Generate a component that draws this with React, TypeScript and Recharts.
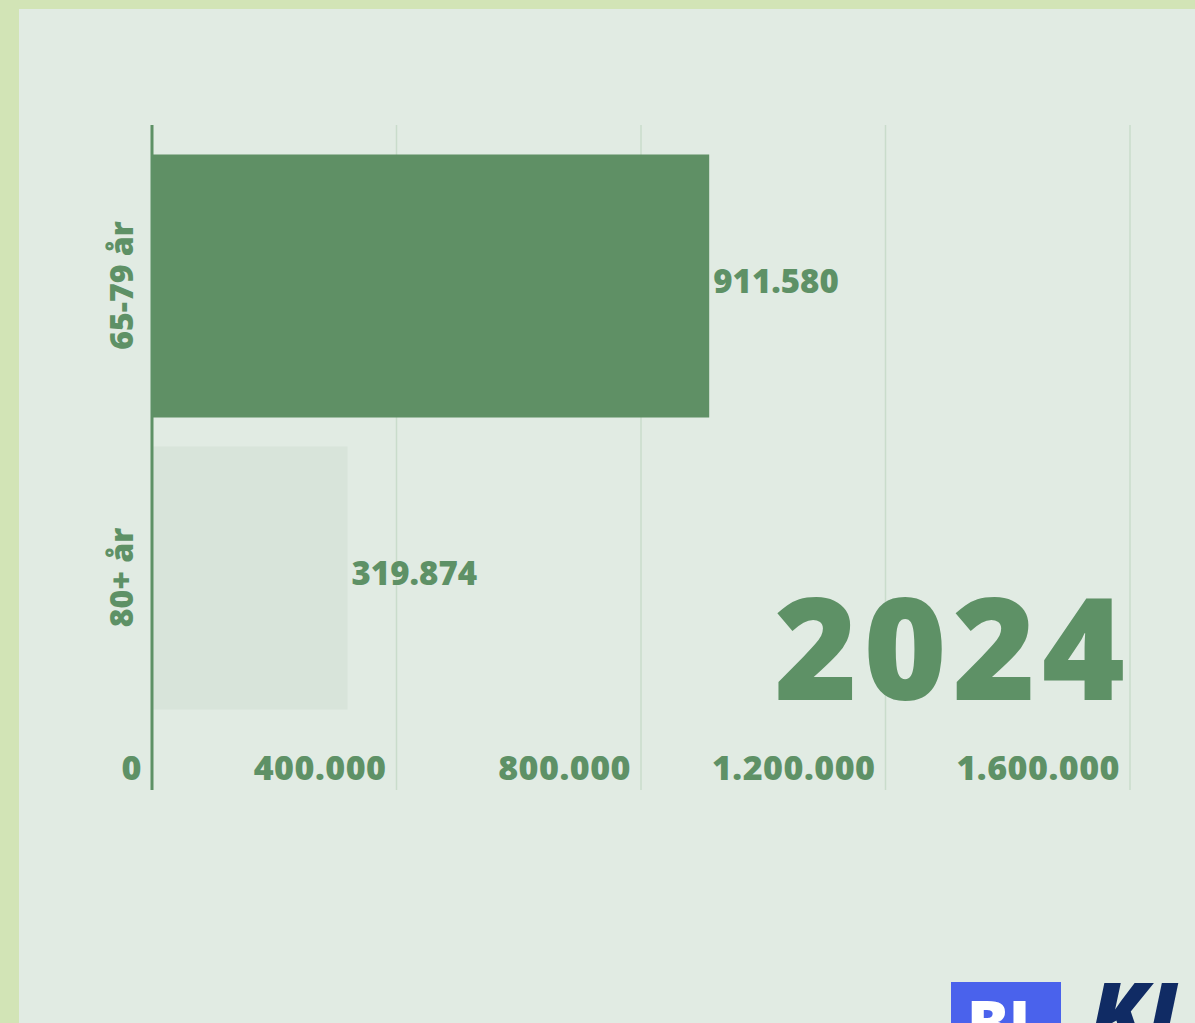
// App.tsx
// Horizontal bar chart: 65-79 år vs 80+ år, 2024.
import { BarChart, Bar, XAxis, YAxis, CartesianGrid, Cell, LabelList } from 'recharts'

const CATEGORIES = ['65-79 år', '80+ år']
const VALUES = [911580, 319874]
const X_TICKS = [0, 400000, 800000, 1200000, 1600000]
const YEAR = '2024'

const BAR_COLORS = ['#5f9065', '#d8e4da']
const GREEN = '#5e9166'
const FONT = '"Open Sans", sans-serif'

const W = 1195
const H = 1023
const CHART_H = 830
const PLOT_TOP = 125
const PLOT_BOTTOM = 790

const data = CATEGORIES.map((name, i) => ({ name, value: VALUES[i] }))

function fmt(v: number): string {
  return String(Math.round(v)).replace(/\B(?=(\d{3})+(?!\d))/g, '.')
}

function XTick({ x, payload }: any) {
  return (
    <text x={x - 10} y={PLOT_BOTTOM - 10} textAnchor="end"
      fill={GREEN} fontFamily={FONT} fontWeight={800} fontSize={34} letterSpacing={0.5}>
      {fmt(payload.value)}
    </text>
  )
}

function YTick({ y, payload }: any) {
  return (
    <text x={133} y={y} textAnchor="middle" transform={`rotate(-90, 133, ${y})`}
      fill={GREEN} fontFamily={FONT} fontWeight={800} fontSize={32}>
      {payload.value}
    </text>
  )
}

function ValueLabel({ x, y, width, height, value }: any) {
  return (
    <text x={x + width + 4} y={y + height / 2 + 7}
      fill={GREEN} fontFamily={FONT} fontWeight={800} fontSize={33}>
      {fmt(value)}
    </text>
  )
}

export default function App() {
  return (
    <div style={{ position: 'absolute', left: 0, top: 0, width: W, height: H, background: '#d2e4b6', overflow: 'hidden' }}>
      <div style={{ position: 'absolute', left: 19, top: 9, right: 0, bottom: 0, background: '#e1ebe3' }} />

      <div style={{ position: 'absolute', left: 0, top: 0 }}>
        <BarChart width={W} height={CHART_H} data={data} layout="vertical"
          margin={{ top: PLOT_TOP, right: 65, left: 0, bottom: 0 }}>
          <CartesianGrid horizontal={false} stroke="#c9dccb" strokeWidth={1.5} />
          <XAxis type="number" domain={[0, 1600000]} ticks={X_TICKS} height={CHART_H - PLOT_BOTTOM}
            axisLine={false} tickLine={false} tick={<XTick />} interval={0} />
          <YAxis type="category" dataKey="name" width={152} padding={{ top: 14.5, bottom: 66.5 }}
            axisLine={{ stroke: GREEN, strokeWidth: 3 }} tickLine={false} tick={<YTick />} interval={0} />
          <Bar dataKey="value" barSize={263} isAnimationActive={false}>
            {data.map((d, i) => <Cell key={d.name} fill={BAR_COLORS[i]} />)}
            <LabelList dataKey="value" content={<ValueLabel />} />
          </Bar>
        </BarChart>
      </div>

      <svg width={W} height={H} style={{ position: 'absolute', left: 0, top: 0, pointerEvents: 'none' }}>
        <text x={1131} y={700} textAnchor="end" fill={GREEN} fontFamily={FONT} fontWeight={800}
          fontSize={142} letterSpacing={6}>
          {YEAR}
        </text>
        <rect x={951} y={982} width={110} height={60} fill="#4a62ec" />
        <text x={1006} y={1045} textAnchor="middle" fill="#ffffff" fontFamily={FONT} fontWeight={800} fontSize={62}>
          BL
        </text>
        <text x={1090} y={1045} fill="#102b64" fontFamily={FONT} fontWeight={800} fontStyle="italic" fontSize={86}>
          KI
        </text>
      </svg>
    </div>
  )
}
